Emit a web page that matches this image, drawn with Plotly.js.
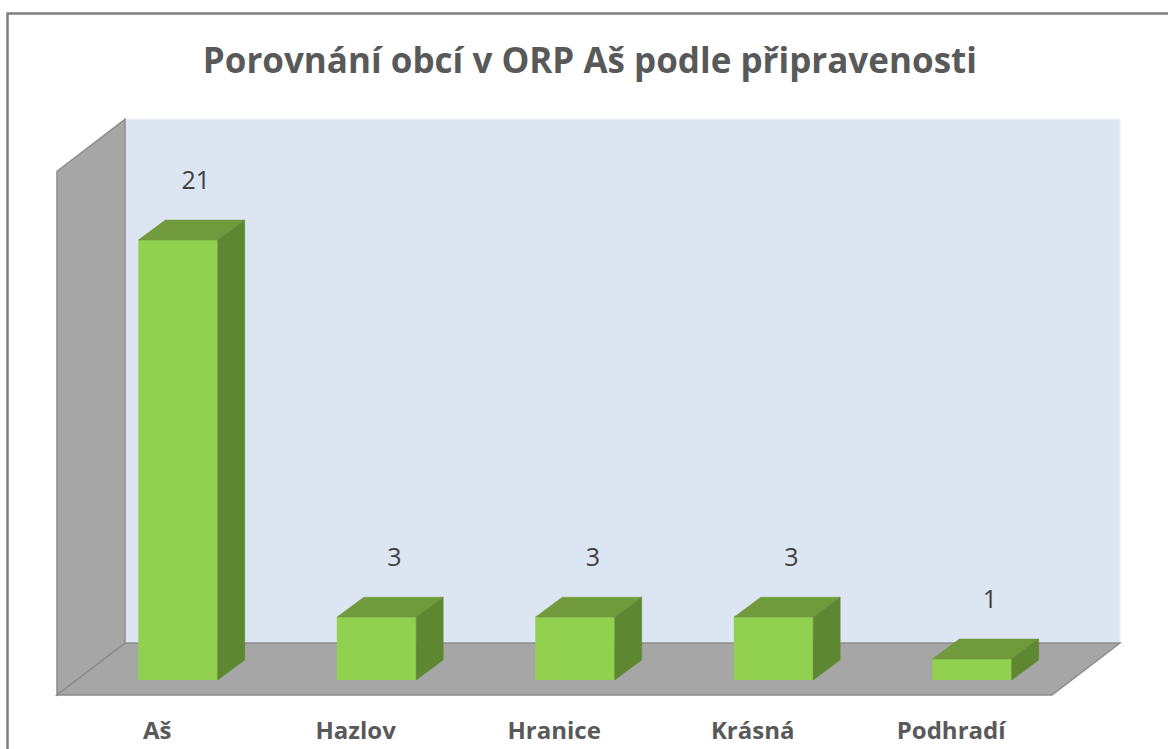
<!DOCTYPE html>
<html>
<head>
<meta charset="utf-8">
<script src="https://cdn.plot.ly/plotly-3.0.1.min.js"></script>
<style>html,body{margin:0;padding:0;background:#fff;}#chart{width:1168px;height:749px;}</style>
</head>
<body>
<div id="chart"></div>
<script>
// ---- data ----
const categories = ['Aš', 'Hazlov', 'Hranice', 'Krásná', 'Podhradí'];
const values = [21, 3, 3, 3, 1];
const titleText = 'Porovnání obcí v ORP Aš podle připravenosti';

// ---- 3D style constants (in axis units) ----
const barW = 0.4;          // bar width in category units
const barDX = 0.136;       // bar depth, x
const barDY = 0.955;       // bar depth, y
const wallDX = 0.3426;     // floor depth, x
const wallDY = 2.48;       // floor depth, y
const floorFront = -0.716; // floor front edge (value units)
const floorLeft = -0.6096, floorRight = 4.403;
const axisMax = 25;

const idx = categories.map((c, i) => i);

// top and side faces of bars
const topX = [], topY = [], sideX = [], sideY = [];
idx.forEach(i => {
  const v = values[i], l = i - barW / 2, r = i + barW / 2;
  topX.push(l, l + barDX, r + barDX, r, l, null);
  topY.push(v, v + barDY, v + barDY, v, v, null);
  sideX.push(r, r + barDX, r + barDX, r, r, null);
  sideY.push(0, barDY, v + barDY, v, 0, null);
});

const traces = [
  {type: 'bar', x: idx, y: values, width: barW, marker: {color: '#92d050', line: {width: 0}}, hoverinfo: 'skip'},
  {type: 'scatter', mode: 'lines', x: topX, y: topY, fill: 'toself', fillcolor: '#709a3b', line: {width: 0.5, color: '#709a3b'}, hoverinfo: 'skip'},
  {type: 'scatter', mode: 'lines', x: sideX, y: sideY, fill: 'toself', fillcolor: '#5e8731', line: {width: 0.5, color: '#5e8731'}, hoverinfo: 'skip'},
  {type: 'scatter', mode: 'text', x: idx.map(i => i + 0.09), y: values.map(v => v + 2.75),
   text: values.map(String), textposition: 'middle center', cliponaxis: false,
   textfont: {family: 'Open Sans, sans-serif', size: 25, color: '#404040'}, hoverinfo: 'skip'},
  {type: 'scatter', mode: 'text', x: idx.map(i => i - 0.105), y: idx.map(() => -2.55),
   text: categories, textposition: 'middle center', cliponaxis: false,
   textfont: {family: 'Open Sans, sans-serif', size: 24, color: '#595959', weight: 'bold'}, hoverinfo: 'skip'}
];

const bl = [floorLeft + wallDX, floorFront + wallDY];
const br = [floorRight + wallDX, floorFront + wallDY];
const wallTop = bl[1] + axisMax;
const P = (pts) => 'M' + pts.map(p => p[0] + ',' + p[1]).join(' L') + ' Z';

const shapes = [
  // back wall
  {type: 'path', xref: 'x', yref: 'y', layer: 'below',
   path: P([bl, [bl[0], wallTop], [br[0], wallTop], br]),
   fillcolor: '#dce6f2', line: {color: '#e6edf6', width: 1}},
  // side wall
  {type: 'path', xref: 'x', yref: 'y', layer: 'below',
   path: P([[floorLeft, floorFront], [floorLeft, wallTop - wallDY], [bl[0], wallTop], bl]),
   fillcolor: '#a6a6a6', line: {color: '#8c8c8c', width: 1.5}},
  // floor
  {type: 'path', xref: 'x', yref: 'y', layer: 'below',
   path: P([[floorLeft, floorFront], bl, br, [floorRight, floorFront]]),
   fillcolor: '#a6a6a6', line: {color: '#8c8c8c', width: 1.5}},
  // outer border
  {type: 'rect', xref: 'paper', yref: 'paper', x0: 7.5 / 1168, x1: 1.05, y0: -0.05, y1: 1 - 13.5 / 749,
   line: {color: '#7f7f7f', width: 2.5}, fillcolor: 'rgba(0,0,0,0)'}
];

const pxPerX = 198.5, pxPerY = 20.95;
const layout = {
  width: 1168, height: 749,
  margin: {l: 0, r: 0, t: 0, b: 0},
  paper_bgcolor: '#ffffff', plot_bgcolor: '#ffffff',
  showlegend: false,
  barmode: 'overlay',
  xaxis: {range: [-178 / pxPerX, (1168 - 178) / pxPerX], visible: false, fixedrange: true},
  yaxis: {range: [-(749 - 680) / pxPerY, 680 / pxPerY], visible: false, fixedrange: true},
  title: {text: titleText, x: 0.505, xanchor: 'center', y: 1 - 61 / 749, yanchor: 'middle',
          font: {family: 'Open Sans, sans-serif', size: 35, color: '#595959', weight: 'bold'}},
  shapes: shapes
};

Plotly.newPlot('chart', traces, layout, {displayModeBar: false, staticPlot: true});
</script>
</body>
</html>
